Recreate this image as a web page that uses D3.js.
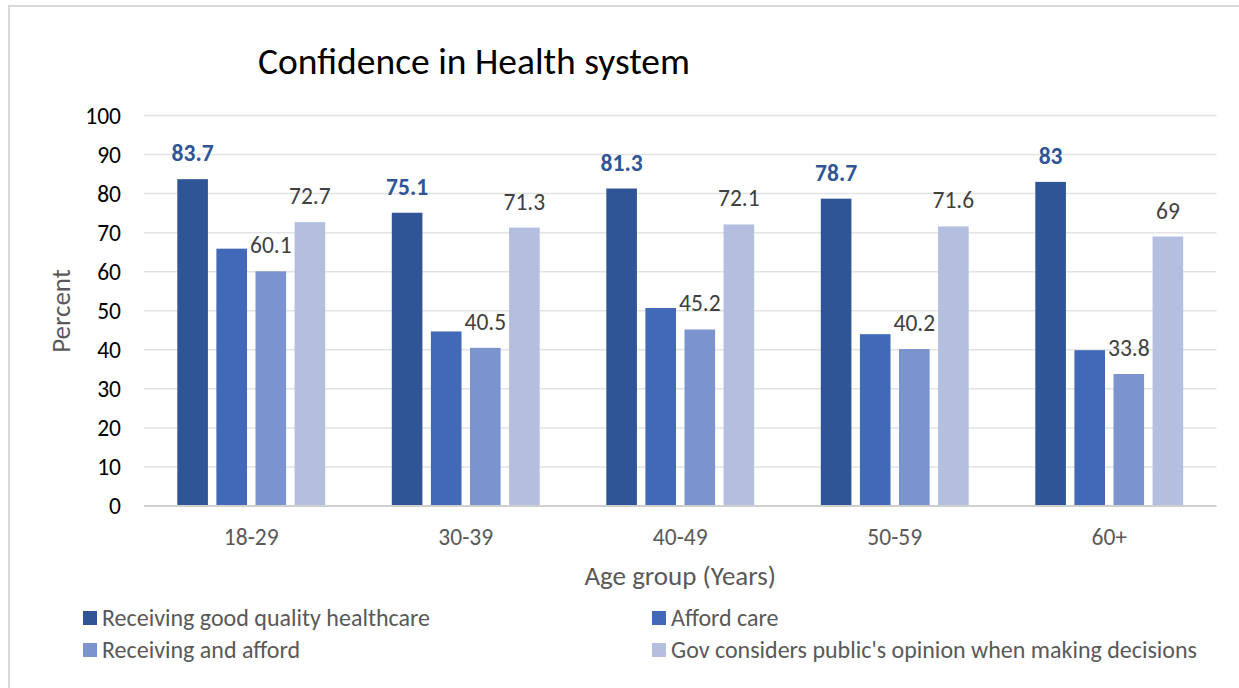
<!DOCTYPE html>
<html>
<head>
<meta charset="utf-8">
<script src="https://cdn.jsdelivr.net/npm/d3@7"></script>
<style>
  html, body { margin: 0; padding: 0; background: #fff; }
  svg { display: block; font-family: Carlito, Calibri, Lato, sans-serif; }
</style>
</head>
<body>
<svg id="chart" width="1239" height="688"></svg>
<script>
// Age groups on the x axis
const categories = ["18-29", "30-39", "40-49", "50-59", "60+"];

// Series names, in drawing order
const seriesNames = [
  "Receiving good quality healthcare",
  "Afford care",
  "Receiving and afford",
  "Gov considers public's opinion when making decisions"
];

// Percent values per series, one per age group
const receivingGoodCare = [83.7, 75.1, 81.3, 78.7, 83];
const affordCare = [65.9, 44.7, 50.7, 44.0, 39.9];
const receivingAndAfford = [60.1, 40.5, 45.2, 40.2, 33.8];
const govConsidersOpinion = [72.7, 71.3, 72.1, 71.6, 69];

// Which series carry value labels
const labelledSeries = [true, false, true, true];

const yTicks = [0, 10, 20, 30, 40, 50, 60, 70, 80, 90, 100];

const seriesValues = [receivingGoodCare, affordCare, receivingAndAfford, govConsidersOpinion];
const colors = ["#2F5597", "#4169B8", "#7B93CF", "#B4BFE0"];

const svg = d3.select("#chart");

// Outer chart frame
svg.append("rect")
  .attr("x", 9).attr("y", 6)
  .attr("width", 1260).attr("height", 720)
  .attr("fill", "#fff")
  .attr("stroke", "#d9d9d9").attr("stroke-width", 2);

const plot = { left: 144, right: 1216.5, top: 115.5, bottom: 506 };

const x = d3.scaleBand().domain(categories).range([plot.left, plot.right]).padding(0);
const groupWidth = 147.9;
const xInner = d3.scaleBand()
  .domain(d3.range(seriesNames.length))
  .range([-groupWidth / 2, groupWidth / 2])
  .paddingInner(0.217).paddingOuter(0);
const y = d3.scaleLinear().domain([0, 100]).range([plot.bottom, plot.top]);

// Horizontal gridlines
svg.append("g")
  .selectAll("line")
  .data(yTicks.filter(t => t > 0))
  .join("line")
  .attr("x1", plot.left).attr("x2", plot.right)
  .attr("y1", d => y(d)).attr("y2", d => y(d))
  .attr("stroke", "#e3e3e3").attr("stroke-width", 1.5);

// Y axis tick labels
const yAxis = d3.axisLeft(y).tickValues(yTicks).tickSize(0).tickPadding(0).tickFormat(d3.format("d"));
const yAxisG = svg.append("g")
  .attr("transform", `translate(121,0)`)
  .call(yAxis);
yAxisG.select(".domain").remove();
yAxisG.selectAll("text")
  .attr("font-size", 23.5)
  .attr("fill", "#000")
  .attr("font-family", "Carlito, Calibri, Lato, sans-serif");

// Bars
const rows = categories.map((c, i) => ({ cat: c, values: seriesValues.map(s => s[i]) }));

const groups = svg.append("g")
  .selectAll("g")
  .data(rows)
  .join("g")
  .attr("transform", d => `translate(${x(d.cat) + x.bandwidth() / 2},0)`);

groups.selectAll("rect")
  .data(d => d.values.map((v, k) => ({ k, v })))
  .join("rect")
  .attr("x", d => xInner(d.k))
  .attr("width", xInner.bandwidth())
  .attr("y", d => y(d.v))
  .attr("height", d => y(0) - y(d.v))
  .attr("fill", d => colors[d.k]);

// Value labels above bars
groups.selectAll("text.val")
  .data(d => d.values.map((v, k) => ({ k, v })).filter(e => labelledSeries[e.k]))
  .join("text")
  .attr("class", "val")
  .attr("x", d => xInner(d.k) + xInner.bandwidth() / 2)
  .attr("y", d => y(d.v) - 18)
  .attr("text-anchor", "middle")
  .attr("font-size", 23.5)
  .attr("font-weight", d => d.k === 0 ? 700 : 400)
  .attr("fill", d => d.k === 0 ? "#2F5597" : "#404040")
  .text(d => d.v);

// Baseline (zero) axis line
svg.append("line")
  .attr("x1", plot.left).attr("x2", plot.right)
  .attr("y1", y(0)).attr("y2", y(0))
  .attr("stroke", "#cfcfcf").attr("stroke-width", 2);

// X axis category labels
const xAxis = d3.axisBottom(x).tickSize(0).tickPadding(0);
const xAxisG = svg.append("g")
  .attr("transform", `translate(0,${plot.bottom})`)
  .call(xAxis);
xAxisG.select(".domain").remove();
xAxisG.selectAll("text")
  .attr("dy", null)
  .attr("y", 39)
  .attr("font-size", 23.5)
  .attr("fill", "#595959")
  .attr("font-family", "Carlito, Calibri, Lato, sans-serif");

// Title
svg.append("text")
  .attr("x", 258).attr("y", 74)
  .attr("font-size", 37.5)
  .attr("fill", "#000")
  .text("Confidence in Health system");

// Axis titles
svg.append("text")
  .attr("x", (plot.left + plot.right) / 2).attr("y", 585)
  .attr("text-anchor", "middle")
  .attr("font-size", 27)
  .attr("fill", "#595959")
  .text("Age group (Years)");

svg.append("text")
  .attr("transform", "translate(70,311) rotate(-90)")
  .attr("text-anchor", "middle")
  .attr("font-size", 27)
  .attr("fill", "#595959")
  .text("Percent");

// Legend, two columns by two rows
const legendPos = [
  { x: 83, y: 618 }, { x: 652, y: 618 },
  { x: 83, y: 650 }, { x: 652, y: 650 }
];
const legend = svg.append("g")
  .selectAll("g")
  .data(seriesNames)
  .join("g")
  .attr("transform", (d, i) => `translate(${legendPos[i].x},${legendPos[i].y})`);
legend.append("rect")
  .attr("x", 0).attr("y", -7)
  .attr("width", 14).attr("height", 14)
  .attr("fill", (d, i) => colors[i]);
legend.append("text")
  .attr("x", 19).attr("y", 8)
  .attr("font-size", 24)
  .attr("fill", "#595959")
  .text(d => d);
</script>
</body>
</html>
